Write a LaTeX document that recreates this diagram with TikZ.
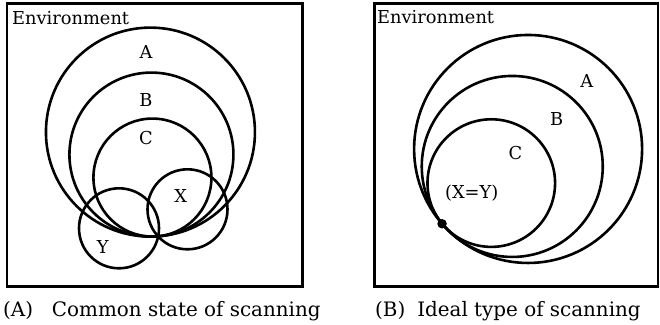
\documentclass[tikz,border=0pt]{standalone}
\usepackage{fontspec}
\setmainfont{DejaVu Serif}
\usetikzlibrary{calc}
\begin{document}
\begin{tikzpicture}[x=1pt,y=-1pt,
  frame/.style={draw,line width=2.7pt},
  ring/.style={circle,draw,line width=2.6pt,inner sep=0pt,outer sep=0pt},
  lbl/.style={font=\fontsize{17.8}{20}\selectfont,inner sep=0pt},
  envlbl/.style={font=\fontsize{17.8}{20}\selectfont,inner sep=0pt,anchor=base west},
  captext/.style={font=\fontsize{19.9}{22}\selectfont,inner sep=0pt,anchor=base west},
  dotnode/.style={circle,fill,inner sep=0pt,minimum size=9.5pt}]
\useasboundingbox (0,0) rectangle (660,324);
% ---------- panel A ----------
\draw[frame] (7,3.5) rectangle (302.5,286.5);
\node[envlbl] (envA) at (12,24) {Environment};
\coordinate (TL) at (155,236.5);
\node[ring,minimum size=209pt] (LA) at ($(TL)+(-92.5:104.5)$) {};
\node[ring,minimum size=164pt] (LB) at ($(TL)+(-92.5:82)$) {};
\node[ring,minimum size=118pt] (LC) at ($(TL)+(-92.5:59)$) {};
\node[ring,minimum size=80pt] (LX) at (187.5,209.3) {};
\node[ring,minimum size=80pt] (LY) at (119,228.3) {};
\node[lbl] (lA) at (146,51.7) {A};
\node[lbl] (lB) at (146,100) {B};
\node[lbl] (lC) at (146,138.5) {C};
\node[lbl] (lX) at (180.7,195.7) {X};
\node[lbl] (lY) at (102.7,246.7) {Y};
\node[captext] (capA) at (3,316) {(A)\hspace{0.95em}Common state of scanning};
% ---------- panel B ----------
\draw[frame] (374.5,3.5) rectangle (658,286.5);
\node[envlbl] (envB) at (377,23.5) {Environment};
\coordinate (TR) at (445,227);
\node[ring,minimum size=228pt] (RA) at ($(TR)+(-43.2:114)$) {};
\node[ring,minimum size=181pt] (RB) at ($(TR)+(-42:90.5)$) {};
\node[ring,minimum size=127.6pt] (RC) at ($(TR)+(-43.5:63.8)$) {};
\node[dotnode] (dot) at ($(RA)+(139:114)$) {};
\node[lbl] (rA) at (586.7,81) {A};
\node[lbl] (rB) at (556.7,119.3) {B};
\node[lbl] (rC) at (515.5,153.5) {C};
\node[lbl] (rXY) at (471.7,192.7) {(X=Y)};
\node[captext] (capB) at (375,316) {(B)\hspace{0.6em}Ideal type of scanning};
\end{tikzpicture}
\end{document}
